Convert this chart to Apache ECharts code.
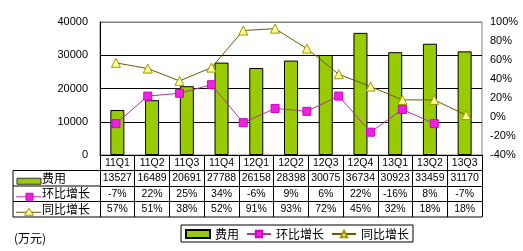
<!DOCTYPE html>
<html>
<head>
<meta charset="utf-8">
<script src="https://cdn.jsdelivr.net/npm/echarts@6/dist/echarts.min.js"></script>
<style>
html,body{margin:0;padding:0;background:#fff;}
#chart{width:523px;height:251px;}
</style>
</head>
<body>
<div id="chart"></div>
<script>
// ---- data ----
const categories = ['11Q1','11Q2','11Q3','11Q4','12Q1','12Q2','12Q3','12Q4','13Q1','13Q2','13Q3'];
const costValues = [13527,16489,20691,27788,26158,28398,30075,36734,30923,33459,31170];
const qoqValues = [-7,22,25,34,-6,9,6,22,-16,8,-7];
// plotted 同比 line (the picture shows 12 points; the last one sits near 2%)
const yoyValues = [57,51,38,52,91,93,72,45,32,18,18,2];
const lineSlots = ['11Q1','11Q2','11Q3','11Q4','12Q1','12Q2','12Q3','12Q4','13Q1','13Q2','13Q3',''];
// table text
const costLabels = ['13527','16489','20691','27788','26158','28398','30075','36734','30923','33459','31170'];
const qoqLabels = ['-7%','22%','25%','34%','-6%','9%','6%','22%','-16%','8%','-7%'];
const yoyLabels = ['57%','51%','38%','52%','91%','93%','72%','45%','32%','18%','18%'];
const leftTicks = {min:0, max:40000, interval:10000};
const rightTicks = {min:-40, max:100, interval:20};

// ---- layout ----
const gLeft = 100, gRight = 482, gTop = 22, gBottom = 155;
const rowH = 15.5;
const tableLeft = 13;
const CJK = '"Noto Sans CJK SC", sans-serif';
const NUM = '"Liberation Sans", Arial, sans-serif';
const green = '#99cc00', magenta = '#cc33cc', olive = '#6b5a00', triFill = '#ffff99';

function tableAxis(data, idx) {
  return {
    type:'category', data:data, gridIndex:0, position:'bottom', offset: rowH*idx,
    boundaryGap:true,
    axisLine:{show:true, onZero:false, lineStyle:{color:'#000', width:1}},
    axisTick:{show:true, interval:0, length:rowH, lineStyle:{color:'#000', width:1}},
    axisLabel:{show:true, interval:0, margin:rowH/2, verticalAlign:'middle',
      color:'#000', fontSize:10.5, fontFamily:NUM},
    splitLine:{show:false}
  };
}

const chart = echarts.init(document.getElementById('chart'), null, {renderer:'canvas'});

const rowY = i => gBottom + rowH*i;
const graphic = [];
for (let i = 1; i <= 3; i++) {
  graphic.push({type:'line', shape:{x1:tableLeft, y1:rowY(i), x2:gLeft, y2:rowY(i)}, style:{stroke:'#000', lineWidth:1}});
}
graphic.push({type:'line', shape:{x1:tableLeft, y1:rowY(4), x2:gRight, y2:rowY(4)}, style:{stroke:'#000', lineWidth:1}});
graphic.push({type:'line', shape:{x1:tableLeft, y1:rowY(1), x2:tableLeft, y2:rowY(4)}, style:{stroke:'#000', lineWidth:1}});
const rowNames = ['费用','环比增长','同比增长'];
rowNames.forEach((name, k) => {
  const cy = rowY(k+1) + rowH/2;
  graphic.push({type:'text', x:42, y:cy, style:{text:name, fill:'#000', font:'12px ' + CJK, textVerticalAlign:'middle'}});
});
graphic.push({type:'rect', shape:{x:17, y:rowY(1)+rowH/2, width:24, height:6}, style:{fill:green, stroke:'#333', lineWidth:1}});
{
  const cy = rowY(2) + rowH/2 + 3;
  graphic.push({type:'line', shape:{x1:16, y1:cy, x2:41, y2:cy}, style:{stroke:magenta, lineWidth:1}});
  graphic.push({type:'rect', shape:{x:26, y:cy-3.5, width:7, height:7}, style:{fill:'#ee22dd', stroke:'#cc00cc', lineWidth:1}});
}
{
  const cy = rowY(3) + rowH/2 + 3;
  graphic.push({type:'line', shape:{x1:16, y1:cy, x2:41, y2:cy}, style:{stroke:olive, lineWidth:1}});
  graphic.push({type:'polygon', shape:{points:[[29,cy-4],[33.5,cy+3],[24.5,cy+3]]}, style:{fill:triFill, stroke:'#999900', lineWidth:1}});
}
graphic.push({type:'text', x:14, y:238, style:{text:'(万元)', fill:'#000', font:'12px ' + CJK, textVerticalAlign:'middle'}});

const option = {
  animation:false,
  backgroundColor:'#fff',
  grid:{left:gLeft, top:gTop, width:gRight-gLeft, height:gBottom-gTop, show:true, borderColor:'#808080', borderWidth:1, backgroundColor:'#fff', containLabel:false},
  legend:{
    left:181, top:225, orient:'horizontal',
    borderColor:'#000', borderWidth:1, padding:[3,4,2,4],
    itemWidth:24, itemHeight:8, itemGap:7,
    textStyle:{fontSize:12, fontFamily:CJK, color:'#000'},
    data:[{name:'费用', icon:'rect'}, {name:'环比增长'}, {name:'同比增长'}]
  },
  xAxis:[
    tableAxis(categories, 0),
    tableAxis(costLabels, 1),
    tableAxis(qoqLabels, 2),
    tableAxis(yoyLabels, 3),
    {type:'category', data:lineSlots, gridIndex:0, show:false, boundaryGap:true, axisLine:{onZero:false}}
  ],
  yAxis:[
    {type:'value', min:leftTicks.min, max:leftTicks.max, interval:leftTicks.interval,
      axisLine:{show:true, lineStyle:{color:'#000', width:1}},
      axisTick:{show:false},
      axisLabel:{color:'#000', fontSize:11, fontFamily:NUM, margin:12, formatter:v => String(v)},
      splitLine:{show:true, lineStyle:{color:['#000','#000','#000','#000','#808080'], width:1}}},
    {type:'value', min:rightTicks.min, max:rightTicks.max, interval:rightTicks.interval, position:'right',
      axisLine:{show:false}, axisTick:{show:false},
      axisLabel:{color:'#000', fontSize:11, fontFamily:NUM, margin:8, formatter:'{value}%'},
      splitLine:{show:false}}
  ],
  series:[
    {name:'费用', type:'bar', xAxisIndex:0, yAxisIndex:0, data:costValues, barWidth:14,
      itemStyle:{color:green, borderColor:'#000', borderWidth:1}},
    {name:'环比增长', type:'line', xAxisIndex:4, yAxisIndex:1, data:qoqValues,
      symbol:'rect', symbolSize:8,
      lineStyle:{color:'#a8379c', width:1},
      itemStyle:{color:'#ee22dd', borderColor:'#cc00cc', borderWidth:1}},
    {name:'同比增长', type:'line', xAxisIndex:4, yAxisIndex:1, data:yoyValues,
      symbol:'triangle', symbolSize:9,
      lineStyle:{color:olive, width:1},
      itemStyle:{color:triFill, borderColor:'#999900', borderWidth:1}}
  ],
  graphic:graphic
};
chart.setOption(option);
</script>
</body>
</html>
